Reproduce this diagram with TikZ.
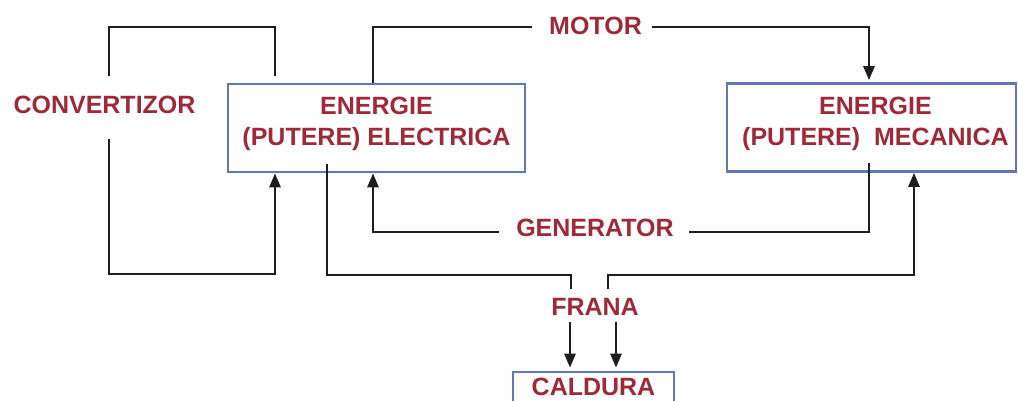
\documentclass[tikz,border=0pt]{standalone}
\usepackage{fontspec}
\setmainfont{Liberation Sans}
\usetikzlibrary{arrows.meta}
\definecolor{txtred}{RGB}{158,42,56}
\definecolor{boxblue}{RGB}{98,118,190}
\definecolor{linegray}{RGB}{30,30,30}
\begin{document}
\begin{tikzpicture}[x=1pt, y=-1pt, >={Triangle[length=14pt,width=11pt]},
  box/.style={draw=boxblue, line width=2.6pt, minimum width=#1, minimum height=88pt, inner sep=0pt},
  lbl/.style={text=txtred, font=\bfseries\fontsize{25}{31}\selectfont, inner sep=0pt, align=center},
  flow/.style={draw=linegray, line width=2.6pt}]
  \useasboundingbox (0,0) rectangle (1018,401);
  % boxes
  \node[box=297pt] (E) at (376.5,128) {};
  \node[box=289pt] (M) at (871.5,127.5) {};
  \node[box=161pt, minimum height=44pt] (C) at (593.5,394) {};
  \node[lbl] (Etxt) at ([yshift=4pt]E.center) {ENERGIE\\(PUTERE) ELECTRICA};
  \node[lbl] (Mtxt) at ([xshift=4pt,yshift=4pt]M.center) {ENERGIE\\(PUTERE)\ \ MECANICA};
  \node[lbl] (Ctxt) at (593.5,387) {CALDURA};
  % labels
  \node[lbl] (conv) at (104.5,105) {CONVERTIZOR};
  \node[lbl] (motor) at (595.5,26) {MOTOR};
  \node[lbl] (gen) at (595,228) {GENERATOR};
  \node[lbl] (frana) at (595,307) {FRANA};
  % convertizor
  \coordinate (cvR) at (275,76);
  \coordinate (cvT) at (109,27);
  \coordinate (cvL) at (109,76);
  \coordinate (cvB) at (109,139);
  \coordinate (cvD) at (109,274);
  \draw[flow] (cvR) |- (cvT) -- (cvL);
  \draw[flow,->] (cvB) -- (cvD) -| (cvR |- E.south);
  % motor
  \coordinate (mo) at (373,27);
  \coordinate (moL) at (532,27);
  \coordinate (moR) at (652,27);
  \coordinate (mm) at (869,27);
  \draw[flow] (mo |- E.north) -- (mo) -- (moL);
  \draw[flow,->] (moR) -- (mm) -- ([yshift=2pt]mm |- M.north);
  % generator
  \coordinate (ge) at (869,163);
  \coordinate (geR) at (689,232);
  \coordinate (geL) at (499,232);
  \draw[flow] (ge) |- (geR);
  \draw[flow,->] (geL) -| (mo |- E.south);
  % frana
  \coordinate (frE) at (327,164);
  \coordinate (frLt) at (571,275);
  \coordinate (frL) at (571,289);
  \coordinate (frR) at (608,289);
  \coordinate (frRt) at (608,275);
  \coordinate (meb) at (914,275);
  \draw[flow] (frE) |- (frLt) -- (frL);
  \draw[flow,->] (frR) -- (frRt) -| (meb |- M.south);
  % caldura
  \coordinate (ca1) at (570,322);
  \coordinate (ca2) at (616,322);
  \draw[flow,->,shorten >=3pt] (ca1) -- (ca1 |- C.north);
  \draw[flow,->,shorten >=3pt] (ca2) -- (ca2 |- C.north);
\end{tikzpicture}
\end{document}
